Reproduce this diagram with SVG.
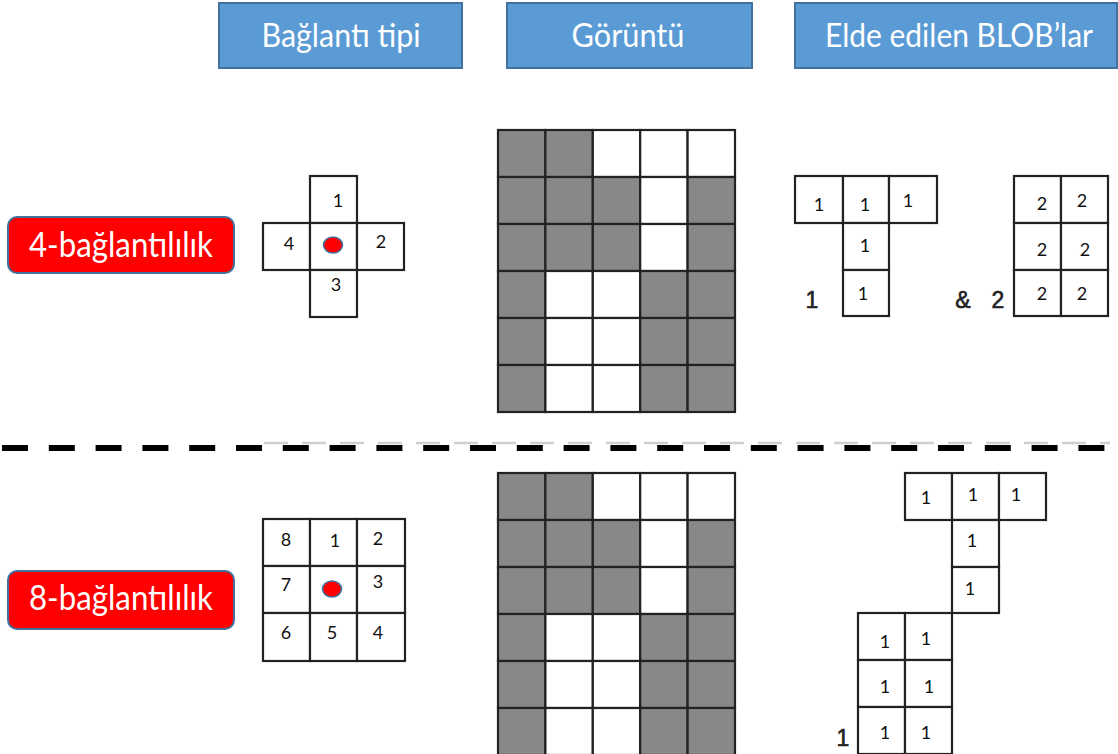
<svg xmlns="http://www.w3.org/2000/svg" width="1118" height="754" viewBox="0 0 1118 754">
<style>
.hdr{fill:#5b9bd5;stroke:#41719c;stroke-width:2}
.hdrt{font-family:Lato,"Open Sans",sans-serif;font-size:33px;fill:#fff;text-anchor:middle}
.lbl{fill:#ff0000;stroke:#41719c;stroke-width:2}
.lblt{font-family:Lato,"Open Sans",sans-serif;font-size:34px;fill:#fff;text-anchor:middle}
.c{fill:#fff;stroke:#222;stroke-width:2.2}
.g{fill:#888;stroke:#222;stroke-width:2.2}
.d{font-family:Lato,"Open Sans",sans-serif;font-size:18px;fill:#111;text-anchor:middle}
.big{font-family:"Liberation Sans",Arial,sans-serif;font-size:23px;fill:#222;stroke:#222;stroke-width:0.6;text-anchor:middle}
.dot{fill:#ff0000;stroke:#41719c;stroke-width:1.5}
</style>
<rect width="1118" height="754" fill="#fff"/>

<g id="header-baglanti">
<rect class="hdr" x="219" y="3" width="243" height="65"/>
<text class="hdrt" x="341" y="47" textLength="159" lengthAdjust="spacingAndGlyphs">Bağlantı tipi</text>
</g>
<g id="header-goruntu">
<rect class="hdr" x="507" y="3" width="245" height="65"/>
<text class="hdrt" x="628" y="47" textLength="113" lengthAdjust="spacingAndGlyphs">Görüntü</text>
</g>
<g id="header-blob">
<rect class="hdr" x="795" y="3" width="322" height="65"/>
<text class="hdrt" x="959" y="47" textLength="268" lengthAdjust="spacingAndGlyphs">Elde edilen BLOB’lar</text>
</g>

<g id="label-4">
<rect class="lbl" x="8" y="217" width="226" height="56" rx="9"/>
<text class="lblt" x="121" y="257" textLength="184" lengthAdjust="spacingAndGlyphs">4-bağlantılılık</text>
</g>
<g id="label-8">
<rect class="lbl" x="8" y="571" width="226" height="58" rx="9"/>
<text class="lblt" x="121" y="610" textLength="184" lengthAdjust="spacingAndGlyphs">8-bağlantılılık</text>
</g>

<g id="kernel-4">
<rect class="c" x="310" y="176" width="47" height="47"/>
<rect class="c" x="263" y="223" width="47" height="47"/>
<rect class="c" x="310" y="223" width="47" height="47"/>
<rect class="c" x="357" y="223" width="47" height="47"/>
<rect class="c" x="310" y="270" width="47" height="47"/>
<text class="d" x="338" y="207">1</text>
<text class="d" x="289" y="250">4</text>
<text class="d" x="381" y="248">2</text>
<text class="d" x="336" y="291">3</text>
<ellipse class="dot" cx="333" cy="245" rx="9.5" ry="8"/>
</g>

<g id="kernel-8">
<rect class="c" x="263" y="519" width="47" height="47"/>
<rect class="c" x="310" y="519" width="47" height="47"/>
<rect class="c" x="357" y="519" width="48" height="47"/>
<rect class="c" x="263" y="566" width="47" height="47"/>
<rect class="c" x="310" y="566" width="47" height="47"/>
<rect class="c" x="357" y="566" width="48" height="47"/>
<rect class="c" x="263" y="613" width="47" height="48"/>
<rect class="c" x="310" y="613" width="47" height="48"/>
<rect class="c" x="357" y="613" width="48" height="48"/>
<text class="d" x="286" y="546">8</text>
<text class="d" x="335" y="547">1</text>
<text class="d" x="378" y="545">2</text>
<text class="d" x="286" y="591">7</text>
<text class="d" x="378" y="588">3</text>
<text class="d" x="286" y="639">6</text>
<text class="d" x="332" y="639">5</text>
<text class="d" x="378" y="639">4</text>
<ellipse class="dot" cx="332" cy="589" rx="9.5" ry="8"/>
</g>

<g id="image-4">
<rect class="g" x="498" y="130" width="47.4" height="47"/><rect class="g" x="545.4" y="130" width="47.4" height="47"/><rect class="c" x="592.8" y="130" width="47.4" height="47"/><rect class="c" x="640.2" y="130" width="47.4" height="47"/><rect class="c" x="687.6" y="130" width="47.4" height="47"/>
<rect class="g" x="498" y="177" width="47.4" height="47"/><rect class="g" x="545.4" y="177" width="47.4" height="47"/><rect class="g" x="592.8" y="177" width="47.4" height="47"/><rect class="c" x="640.2" y="177" width="47.4" height="47"/><rect class="g" x="687.6" y="177" width="47.4" height="47"/>
<rect class="g" x="498" y="224" width="47.4" height="47"/><rect class="g" x="545.4" y="224" width="47.4" height="47"/><rect class="g" x="592.8" y="224" width="47.4" height="47"/><rect class="c" x="640.2" y="224" width="47.4" height="47"/><rect class="g" x="687.6" y="224" width="47.4" height="47"/>
<rect class="g" x="498" y="271" width="47.4" height="47"/><rect class="c" x="545.4" y="271" width="47.4" height="47"/><rect class="c" x="592.8" y="271" width="47.4" height="47"/><rect class="g" x="640.2" y="271" width="47.4" height="47"/><rect class="g" x="687.6" y="271" width="47.4" height="47"/>
<rect class="g" x="498" y="318" width="47.4" height="47"/><rect class="c" x="545.4" y="318" width="47.4" height="47"/><rect class="c" x="592.8" y="318" width="47.4" height="47"/><rect class="g" x="640.2" y="318" width="47.4" height="47"/><rect class="g" x="687.6" y="318" width="47.4" height="47"/>
<rect class="g" x="498" y="365" width="47.4" height="47"/><rect class="c" x="545.4" y="365" width="47.4" height="47"/><rect class="c" x="592.8" y="365" width="47.4" height="47"/><rect class="g" x="640.2" y="365" width="47.4" height="47"/><rect class="g" x="687.6" y="365" width="47.4" height="47"/>
</g>

<g id="image-8">
<rect class="g" x="498" y="473" width="47.4" height="47"/><rect class="g" x="545.4" y="473" width="47.4" height="47"/><rect class="c" x="592.8" y="473" width="47.4" height="47"/><rect class="c" x="640.2" y="473" width="47.4" height="47"/><rect class="c" x="687.6" y="473" width="47.4" height="47"/>
<rect class="g" x="498" y="520" width="47.4" height="47"/><rect class="g" x="545.4" y="520" width="47.4" height="47"/><rect class="g" x="592.8" y="520" width="47.4" height="47"/><rect class="c" x="640.2" y="520" width="47.4" height="47"/><rect class="g" x="687.6" y="520" width="47.4" height="47"/>
<rect class="g" x="498" y="567" width="47.4" height="47"/><rect class="g" x="545.4" y="567" width="47.4" height="47"/><rect class="g" x="592.8" y="567" width="47.4" height="47"/><rect class="c" x="640.2" y="567" width="47.4" height="47"/><rect class="g" x="687.6" y="567" width="47.4" height="47"/>
<rect class="g" x="498" y="614" width="47.4" height="47"/><rect class="c" x="545.4" y="614" width="47.4" height="47"/><rect class="c" x="592.8" y="614" width="47.4" height="47"/><rect class="g" x="640.2" y="614" width="47.4" height="47"/><rect class="g" x="687.6" y="614" width="47.4" height="47"/>
<rect class="g" x="498" y="661" width="47.4" height="47"/><rect class="c" x="545.4" y="661" width="47.4" height="47"/><rect class="c" x="592.8" y="661" width="47.4" height="47"/><rect class="g" x="640.2" y="661" width="47.4" height="47"/><rect class="g" x="687.6" y="661" width="47.4" height="47"/>
<rect class="g" x="498" y="708" width="47.4" height="47"/><rect class="c" x="545.4" y="708" width="47.4" height="47"/><rect class="c" x="592.8" y="708" width="47.4" height="47"/><rect class="g" x="640.2" y="708" width="47.4" height="47"/><rect class="g" x="687.6" y="708" width="47.4" height="47"/>
</g>

<g id="blobs-4">
<rect class="c" x="795" y="176" width="48" height="47"/>
<rect class="c" x="843" y="176" width="46" height="47"/>
<rect class="c" x="889" y="176" width="48" height="47"/>
<rect class="c" x="843" y="223" width="46" height="47"/>
<rect class="c" x="843" y="270" width="46" height="46"/>
<text class="d" x="819" y="211">1</text>
<text class="d" x="865" y="211">1</text>
<text class="d" x="908" y="207">1</text>
<text class="d" x="865" y="252">1</text>
<text class="d" x="863" y="300">1</text>
<text class="big" x="812" y="308">1</text>
<rect class="c" x="1014" y="176" width="47" height="47"/>
<rect class="c" x="1061" y="176" width="47" height="47"/>
<rect class="c" x="1014" y="223" width="47" height="47"/>
<rect class="c" x="1061" y="223" width="47" height="47"/>
<rect class="c" x="1014" y="270" width="47" height="46"/>
<rect class="c" x="1061" y="270" width="47" height="46"/>
<text class="d" x="1042" y="210">2</text>
<text class="d" x="1082" y="207">2</text>
<text class="d" x="1042" y="256">2</text>
<text class="d" x="1085" y="256">2</text>
<text class="d" x="1042" y="300">2</text>
<text class="d" x="1082" y="300">2</text>
<text class="big" x="963" y="308">&amp;</text>
<text class="big" x="998" y="308">2</text>
</g>

<g id="blobs-8">
<rect class="c" x="905" y="473" width="47" height="47"/>
<rect class="c" x="952" y="473" width="47" height="47"/>
<rect class="c" x="999" y="473" width="47" height="47"/>
<rect class="c" x="952" y="520" width="47" height="47"/>
<rect class="c" x="952" y="567" width="47" height="46"/>
<rect class="c" x="858" y="613" width="47" height="47"/>
<rect class="c" x="905" y="613" width="47" height="47"/>
<rect class="c" x="858" y="660" width="47" height="47"/>
<rect class="c" x="905" y="660" width="47" height="47"/>
<rect class="c" x="858" y="707" width="47" height="47"/>
<rect class="c" x="905" y="707" width="47" height="47"/>
<text class="d" x="926" y="504">1</text>
<text class="d" x="973" y="501">1</text>
<text class="d" x="1016" y="501">1</text>
<text class="d" x="972" y="547">1</text>
<text class="d" x="970" y="595">1</text>
<text class="d" x="885" y="648">1</text>
<text class="d" x="926" y="645">1</text>
<text class="d" x="885" y="693">1</text>
<text class="d" x="929" y="693">1</text>
<text class="d" x="885" y="739">1</text>
<text class="d" x="926" y="739">1</text>
<text class="big" x="843" y="746">1</text>
</g>

<g id="connectors">
<line x1="264" y1="443" x2="1110" y2="443" stroke="#777" stroke-width="2.5" stroke-dasharray="24 14" opacity="0.35"/>
<line x1="2" y1="448" x2="1106" y2="448" stroke="#000" stroke-width="6" stroke-dasharray="26 20.8"/>
</g>
</svg>
